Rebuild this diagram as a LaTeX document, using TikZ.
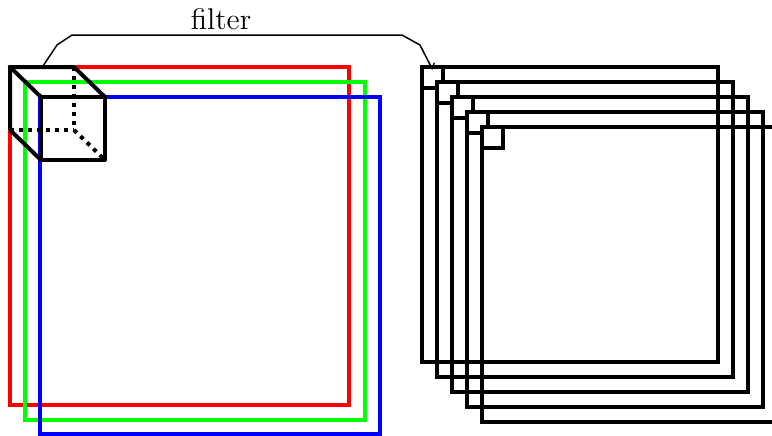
\documentclass[tikz,border=0pt]{standalone}
\begin{document}
\begin{tikzpicture}[x=0.4pt, y=-0.4pt,
  channel/.style={line width=1.6pt},
  fmap/.style={draw, line width=1.6pt, anchor=north west, inner sep=0pt,
    outer sep=0pt, minimum width=118.4pt, minimum height=118pt},
  kernel/.style={draw, line width=1.6pt, anchor=north west, inner sep=0pt,
    outer sep=0pt, minimum size=8.4pt, fill=white},
  edge/.style={line width=1.6pt, line join=round},
  hidden/.style={line width=1.6pt, dotted},
  link/.style={semithick, ->}]
  \useasboundingbox (0,0) rectangle (772,435);
  \clip (0,0) rectangle (772,435);

  % input channels
  \draw[channel, red]   (10,67)  rectangle (349,405);
  \draw[channel, green] (25,82)  rectangle (365,420);
  \draw[channel, blue]  (40,97)  rectangle (380,434);

  % filter cube: hidden edges
  \draw[hidden] (74,67) -- (74,130);
  \draw[hidden] (10,130) -- (74,130);
  \draw[hidden] (74,130) -- (105,160);
  % filter cube: visible edges
  \draw[edge] (10,130) -- (10,67) -- (74,67) -- (105,97);
  \draw[edge] (10,67) -- (41,97);
  \draw[edge] (10,130) -- (41,160);
  \draw[edge] (41,97) rectangle (105,160);
  \coordinate (src) at (43,66);

  % output feature maps with their kernel positions
  \foreach \i in {0,...,4} {
    \node[fmap] (m\i) at ({422+15*\i},{67+15*\i}) {};
  }
  \foreach \i in {0,...,4} {
    \node[kernel] (f\i) at ({422+15*\i},{67+15*\i}) {};
  }

  % label and connector
  \node[font=\large] (lbl) at (221,19) {filter};
  \draw[link] (src) -- (57,45) -- (72,35) -- (402,35) -- (420,45) -- ([yshift=-1pt]f0.north);
\end{tikzpicture}
\end{document}
